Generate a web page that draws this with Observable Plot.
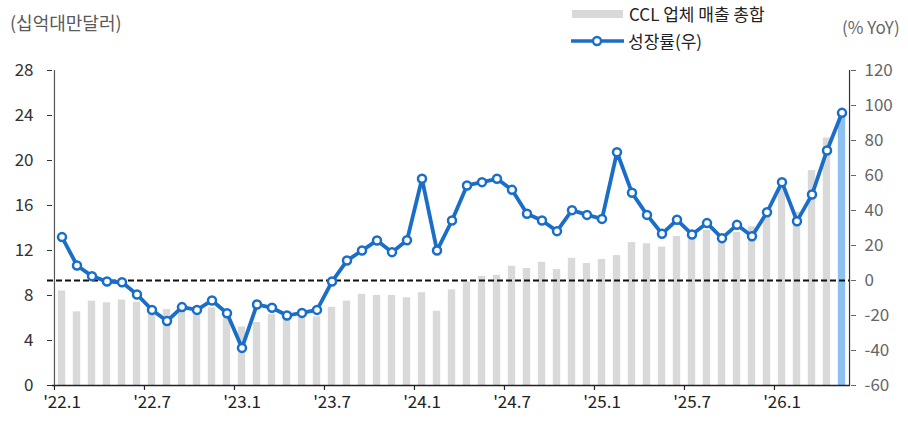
<!DOCTYPE html>
<html><head><meta charset="utf-8">
<script src="https://cdn.jsdelivr.net/npm/d3@7"></script>
<script src="https://cdn.jsdelivr.net/npm/@observablehq/plot@0.6"></script>
<style>
body{margin:0;background:#fff;font-family:"Noto Sans CJK KR","Noto Sans",sans-serif;}
#wrap{position:relative;width:908px;height:421px;overflow:hidden;}
.t{position:absolute;white-space:nowrap;line-height:20px;height:20px;}
#chart{position:absolute;left:0;top:0;}
</style></head><body>
<div id="wrap">
  <div id="chart"></div>
  <div class="t" style="left:10px;top:12px;font-size:18px;color:#595959">(십억대만달러)</div>
  <div style="position:absolute;left:572px;top:10px;width:51px;height:8px;background:#d9d9d9"></div>
  <div class="t" style="left:629px;top:4px;font-size:17px;color:#222">CCL 업체 매출 총합</div>
  <svg style="position:absolute;left:570px;top:33px" width="56" height="16">
    <line x1="1" x2="54" y1="8" y2="8" stroke="#1a6ec7" stroke-width="3.5"/>
    <circle cx="27" cy="8" r="4" fill="#fff" stroke="#1a6ec7" stroke-width="2.4"/>
  </svg>
  <div class="t" style="left:628px;top:31px;font-size:17px;color:#222">성장률(우)</div>
  <div class="t" style="left:842px;top:17px;font-size:17px;color:#666">(% YoY)</div>
</div>
<script>
const months = ["'22.1","'22.2","'22.3","'22.4","'22.5","'22.6","'22.7","'22.8","'22.9","'22.10","'22.11","'22.12",
"'23.1","'23.2","'23.3","'23.4","'23.5","'23.6","'23.7","'23.8","'23.9","'23.10","'23.11","'23.12",
"'24.1","'24.2","'24.3","'24.4","'24.5","'24.6","'24.7","'24.8","'24.9","'24.10","'24.11","'24.12",
"'25.1","'25.2","'25.3","'25.4","'25.5","'25.6","'25.7","'25.8","'25.9","'25.10","'25.11","'25.12",
"'26.1","'26.2","'26.3","'26.4","'26.5"];
const sales = [8.4,6.55,7.5,7.35,7.6,7.4,6.7,6.75,6.65,6.7,
6.9,6.2,5.2,5.6,6.3,6.1,6.1,6.1,6.95,7.5,
8.1,8.0,8.0,7.8,8.25,6.6,8.5,9.2,9.7,9.8,
10.6,10.4,10.95,10.3,11.3,10.85,11.2,11.55,12.7,12.6,
12.3,13.25,13.3,13.8,13.1,13.6,14.1,15.1,17.8,15.4,
19.1,22.0,24.15];
const growth = [24.8,8.6,2.5,-0.6,-1,-8,-16.8,-23.2,-15.2,-16.8,
-11.4,-18.7,-38.5,-13.7,-15.6,-20,-18.5,-16.8,-0.6,11.4,
17.1,22.9,16.2,23,58.1,17.1,34.3,54.3,56.2,58.1,
51.8,38.1,34.3,28.2,40.2,37.5,35.2,73.3,50.1,37.5,
26.7,34.7,26.3,32.8,24.2,31.8,25.3,39.0,56.2,33.9,
49.1,74.3,95.8];
const tickLabels = ["'22.1","'22.7","'23.1","'23.7","'24.1","'24.7","'25.1","'25.7","'26.1"];
const leftTicks = [0,4,8,12,16,20,24,28];
const rightTicks = [-60,-40,-20,0,20,40,60,80,100,120];

const leftMax = 28, rMin = -60, rMax = 120;
const g2l = v => (v - rMin) * leftMax / (rMax - rMin);
const l2g = v => v * (rMax - rMin) / leftMax + rMin;

const data = months.map((m, i) => ({m, i, sales: sales[i], g: growth[i]}));
const lastIdx = months.length - 1;

const W = 908, H = 421, mL = 52, mR = 58, mT = 70, mB = 36;
const step = (W - mL - mR) / months.length;
const blue = "#1a6ec7";
const font = '"Noto Sans CJK KR","Noto Sans",sans-serif';

const chart = Plot.plot({
  width: W, height: H,
  marginLeft: mL, marginRight: mR, marginTop: mT, marginBottom: mB,
  style: {fontFamily: font, fontSize: "17px", background: "transparent", overflow: "visible"},
  x: {type: "band", domain: months, padding: 0, axis: null, label: null},
  y: {domain: [0, leftMax], axis: null, label: null},
  marks: [
    Plot.barY(data.filter(d => d.i !== lastIdx), {x: "m", y: "sales", fill: "#d9d9d9", insetLeft: 3.8, insetRight: 3.8}),
    Plot.barY(data.filter(d => d.i === lastIdx), {x: "m", y: "sales", fill: "#8fc1f0", insetLeft: 3.8, insetRight: 3.8}),
    Plot.ruleY([g2l(0)], {stroke: "#111", strokeWidth: 1.8, strokeDasharray: "6,3", insetLeft: -5}),
    Plot.ruleY([0], {stroke: "#222", strokeWidth: 1.5}),
    Plot.ruleX([months[0]], {x: d => d, dx: -step / 2, stroke: "#555", strokeWidth: 1.2}),
    Plot.ruleX([months[lastIdx]], {x: d => d, dx: step / 2, stroke: "#333", strokeWidth: 1.2}),
    Plot.ruleX(tickLabels, {x: d => d, dx: -step / 2, y1: 0, y2: -5 * leftMax / (H - mT - mB), stroke: "#222", strokeWidth: 1.2}),
    Plot.axisY({anchor: "left", label: null, ticks: leftTicks, tickSize: 5, tickPadding: 14, color: "#333", fontSize: 17}),
    Plot.axisY({anchor: "right", label: null, ticks: rightTicks.map(g2l), tickFormat: d => String(Math.round(l2g(d))), tickSize: 5, tickPadding: 9, color: "#666", fontSize: 17}),
    Plot.axisX({label: null, ticks: tickLabels, tickSize: 0, tickPadding: 10, color: "#222", fontSize: 17}),
    Plot.line(data, {x: "m", y: d => g2l(d.g), stroke: blue, strokeWidth: 3.8, strokeLinejoin: "round"}),
    Plot.dot(data, {x: "m", y: d => g2l(d.g), r: 4, fill: "white", stroke: blue, strokeWidth: 2.5})
  ]
});
document.getElementById("chart").appendChild(chart);
</script>
</body></html>
